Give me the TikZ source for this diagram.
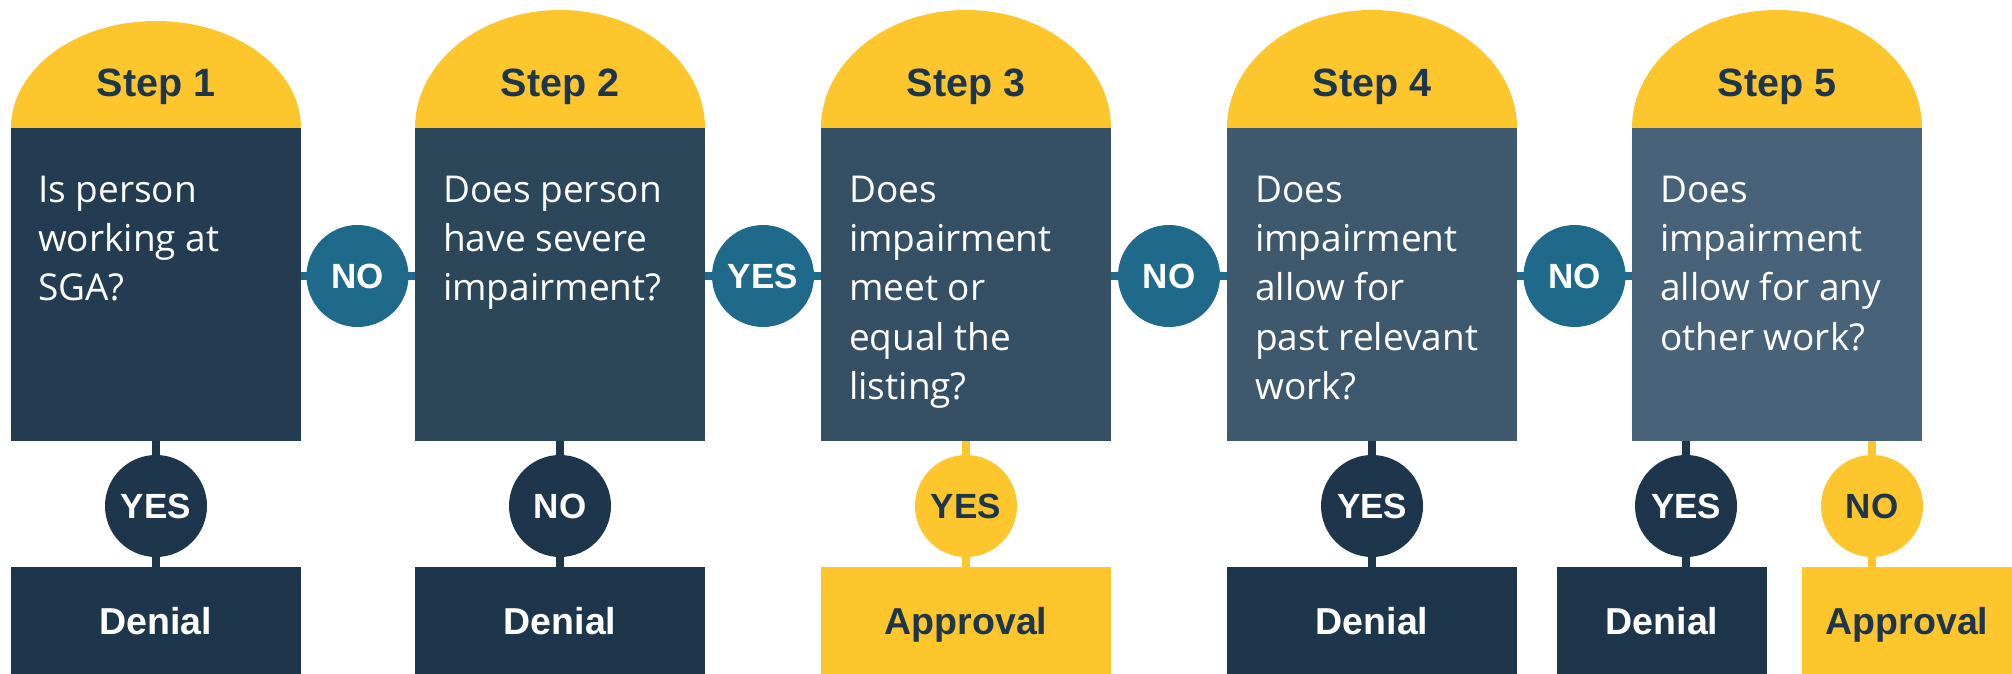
\documentclass[tikz,border=0pt]{standalone}
\usepackage{fontspec}
\setmainfont{Open Sans}
\newfontfamily\lblfont{Liberation Sans}[BoldFont={Liberation Sans Bold}]
\usetikzlibrary{calc}
\definecolor{ylw}{RGB}{252,198,44}
\definecolor{navy}{RGB}{30,54,75}
\definecolor{tealc}{RGB}{31,106,138}
\definecolor{bxa}{RGB}{35,60,81}
\definecolor{bxb}{RGB}{44,70,90}
\definecolor{bxc}{RGB}{53,79,100}
\definecolor{bxd}{RGB}{62,88,110}
\definecolor{bxe}{RGB}{71,98,121}
\pgfdeclarelayer{bg}
\pgfsetlayers{bg,main}
\tikzset{
  qbox/.style={rectangle, draw=none, minimum width=290pt, minimum height=313pt, inner sep=0pt},
  qtext/.style={anchor=base west, inner sep=0pt, text=white, font=\fontsize{37}{49.4}\selectfont},
  steplbl/.style={anchor=base, inner sep=0pt, text=navy, font=\lblfont\bfseries\fontsize{39.5}{42}\selectfont},
  ball/.style={circle, minimum size=102pt, inner sep=0pt, font=\lblfont\bfseries\fontsize{35}{38}\selectfont, text height=25pt, text depth=0pt},
  hball/.style={ball, fill=tealc, text=white},
  dball/.style={ball, fill=navy, text=white},
  yball/.style={ball, fill=ylw, text=navy},
  outbox/.style={rectangle, minimum height=107pt, inner sep=0pt, font=\lblfont\bfseries\fontsize{37.5}{40}\selectfont, text height=27pt, text depth=0pt},
  denybox/.style={outbox, fill=navy, text=white},
  apprbox/.style={outbox, fill=ylw, text=navy},
  hlink/.style={line width=8pt, tealc},
  stemd/.style={line width=8pt, navy},
  stemy/.style={line width=8pt, ylw},
}
\begin{document}
\begin{tikzpicture}[x=1pt,y=1pt]
\useasboundingbox (0,0) rectangle (2012,-674);
% domes
\fill[ylw] (11,-128) arc[start angle=180, end angle=0, x radius=145, y radius=107] -- cycle;
\fill[ylw] (415,-128) arc[start angle=180, end angle=0, x radius=145, y radius=118] -- cycle;
\fill[ylw] (821,-128) arc[start angle=180, end angle=0, x radius=145, y radius=118] -- cycle;
\fill[ylw] (1227,-128) arc[start angle=180, end angle=0, x radius=145, y radius=118] -- cycle;
\fill[ylw] (1632,-128) arc[start angle=180, end angle=0, x radius=145, y radius=118] -- cycle;
\node[steplbl] (s1) at (156,-97) {Step 1};
\node[steplbl] (s2) at (560,-97) {Step 2};
\node[steplbl] (s3) at (966,-97) {Step 3};
\node[steplbl] (s4) at (1372,-97) {Step 4};
\node[steplbl] (s5) at (1777,-97) {Step 5};
% question boxes
\node[qbox, fill=bxa] (b1) at (156,-284.5) {};
\node[qbox, fill=bxb] (b2) at (560,-284.5) {};
\node[qbox, fill=bxc] (b3) at (966,-284.5) {};
\node[qbox, fill=bxd] (b4) at (1372,-284.5) {};
\node[qbox, fill=bxe] (b5) at (1777,-284.5) {};
\node[qtext] (q1) at (38,-202) {\begin{tabular}[t]{@{}l@{}}Is person\\working at\\SGA?\end{tabular}};
\node[qtext] (q2) at (443,-202) {\begin{tabular}[t]{@{}l@{}}Does person\\have severe\\impairment?\end{tabular}};
\node[qtext] (q3) at (849,-202) {\begin{tabular}[t]{@{}l@{}}Does\\impairment\\meet or\\equal the\\listing?\end{tabular}};
\node[qtext] (q4) at (1255,-202) {\begin{tabular}[t]{@{}l@{}}Does\\impairment\\allow for\\past relevant\\work?\end{tabular}};
\node[qtext] (q5) at (1660,-202) {\begin{tabular}[t]{@{}l@{}}Does\\impairment\\allow for any\\other work?\end{tabular}};
% horizontal decision circles
\node[hball] (h1) at (357.5,-276) {NO};
\node[hball] (h2) at (763,-276) {YES};
\node[hball] (h3) at (1169,-276) {NO};
\node[hball] (h4) at (1574.5,-276) {NO};
% vertical decision circles
\node[dball] (v1) at (156,-506) {YES};
\node[dball] (v2) at (560,-506) {NO};
\node[yball] (v3) at (966,-506) {YES};
\node[dball] (v4) at (1372,-506) {YES};
\node[dball] (v5) at (1686,-506) {YES};
\node[yball] (v6) at (1872,-506) {NO};
% outcomes
\node[denybox, minimum width=290pt] (o1) at (156,-620.5) {Denial};
\node[denybox, minimum width=290pt] (o2) at (560,-620.5) {Denial};
\node[apprbox, minimum width=290pt] (o3) at (966,-620.5) {Approval};
\node[denybox, minimum width=290pt] (o4) at (1372,-620.5) {Denial};
\node[denybox, minimum width=210pt] (o5) at (1662,-620.5) {Denial};
\node[apprbox, minimum width=210pt] (o6) at (1907,-620.5) {Approval};
% connectors
\begin{pgfonlayer}{bg}
\draw[hlink] (b1.east |- h1.center) -- (h1.center) -- (b2.west |- h1.center);
\draw[hlink] (b2.east |- h2.center) -- (h2.center) -- (b3.west |- h2.center);
\draw[hlink] (b3.east |- h3.center) -- (h3.center) -- (b4.west |- h3.center);
\draw[hlink] (b4.east |- h4.center) -- (h4.center) -- (b5.west |- h4.center);
\draw[stemd] (b1.south -| v1.center) -- (v1.center) -- (o1.north -| v1.center);
\draw[stemd] (b2.south -| v2.center) -- (v2.center) -- (o2.north -| v2.center);
\draw[stemy] (b3.south -| v3.center) -- (v3.center) -- (o3.north -| v3.center);
\draw[stemd] (b4.south -| v4.center) -- (v4.center) -- (o4.north -| v4.center);
\draw[stemd] (b5.south -| v5.center) -- (v5.center) -- (o5.north -| v5.center);
\draw[stemy] (b5.south -| v6.center) -- (v6.center) -- (o6.north -| v6.center);
\end{pgfonlayer}
\end{tikzpicture}
\end{document}
